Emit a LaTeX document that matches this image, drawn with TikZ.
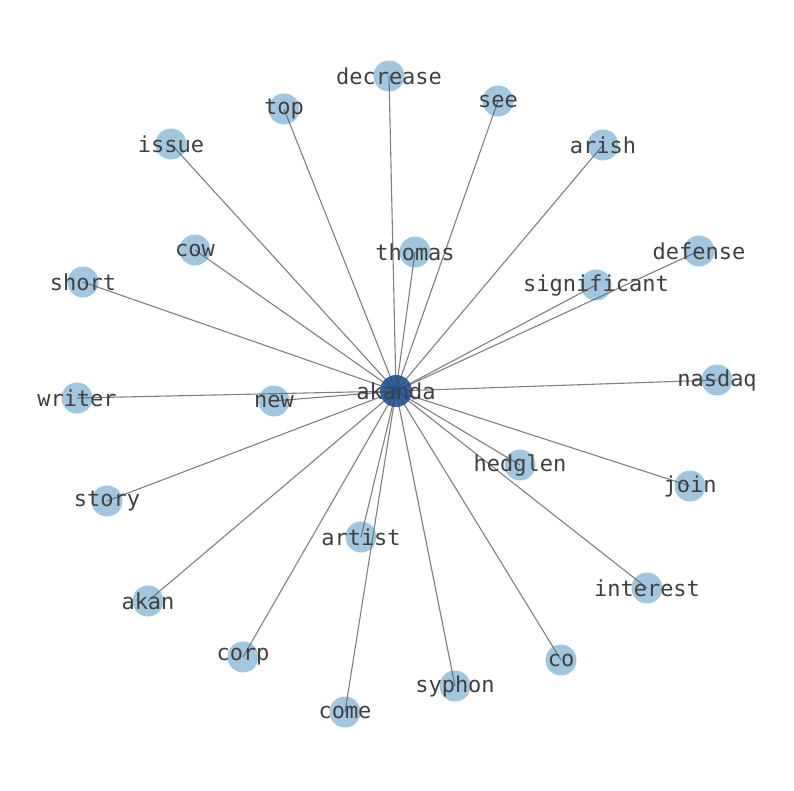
\documentclass[tikz,border=0pt]{standalone}
\usepackage{fontspec}
\newfontfamily\monofont{DejaVu Sans Mono}
\definecolor{nodeblue}{HTML}{1F77B4}
\definecolor{hubblue}{RGB}{20,75,145}
\definecolor{labelgray}{RGB}{64,64,64}
\definecolor{edgegray}{RGB}{128,128,128}
\begin{document}
\begin{tikzpicture}[x=1pt,y=-1pt,
  leaf/.style={circle,minimum size=31pt,inner sep=0pt,fill=nodeblue,fill opacity=0.42,draw=none},
  hub/.style={circle,minimum size=32pt,inner sep=0pt,fill=hubblue,fill opacity=0.85,draw=none},
  lbl/.style={font=\monofont\fontsize{22}{24}\selectfont,text=labelgray,inner sep=0pt},
  edge/.style={draw=edgegray,line width=1.1pt}]
\useasboundingbox (0,0) rectangle (794,790);
% positions
\coordinate (akanda) at (396,391);
\foreach \n/\x/\y in {decrease/389/76, top/284/109, see/498/101, issue/171/144, arish/603/145,
  cow/195/250, thomas/415/252, defense/699/251, short/83/282, significant/596/285,
  nasdaq/717/380, writer/77/398, new/274/401, hedglen/520/465, join/690/486,
  story/107/501, artist/361/537, interest/647/588, akan/148/601, corp/243/657,
  co/561/660, syphon/455/686, come/345/712}{
  \coordinate (\n) at (\x,\y);
}
% edges
\foreach \n in {decrease,top,see,issue,arish,cow,thomas,defense,short,significant,
  nasdaq,writer,new,hedglen,join,story,artist,interest,akan,corp,co,syphon,come}{
  \draw[edge] (akanda) -- (\n);
}
% nodes
\foreach \n in {decrease,top,see,issue,arish,cow,thomas,defense,short,significant,
  nasdaq,writer,new,hedglen,join,story,artist,interest,akan,corp,co,syphon,come}{
  \node[leaf] (\n-c) at (\n) {};
}
\node[hub] (akanda-c) at (akanda) {};
% labels
\foreach \n in {decrease,top,see,issue,arish,cow,thomas,defense,short,significant,
  nasdaq,writer,new,hedglen,join,story,artist,interest,akan,corp,co,syphon,come,akanda}{
  \node[lbl] (\n-t) at (\n) {\n};
}
\end{tikzpicture}
\end{document}
